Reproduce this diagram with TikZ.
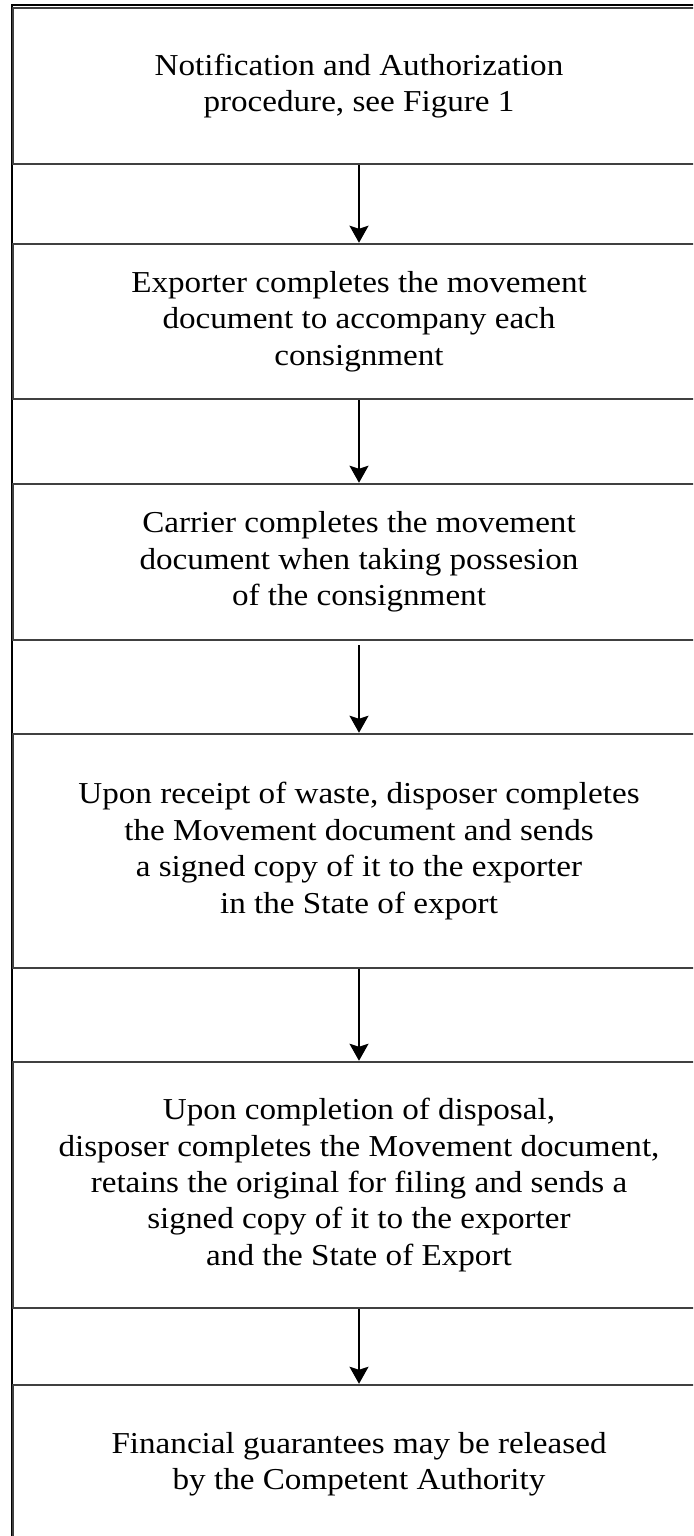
\documentclass[tikz,border=0pt]{standalone}
\usepackage{fontspec}
\setmainfont{Liberation Serif}[FakeStretch=1.09]
\usetikzlibrary{arrows.meta}
\begin{document}
\begin{tikzpicture}[x=0.5pt,y=-0.5pt,
  framelinestyle/.style={draw=black,line width=0.75pt},
  stepbox/.style={draw=black!75,line width=1.25pt,fill=white,minimum width=346pt,
    inner sep=0pt,align=center,font=\fontsize{15.2}{18.2}\selectfont},
  flowarrow/.style={draw=black,line width=0.9pt,
    -{Stealth[length=8.5pt,width=9.5pt,inset=1.5pt]}}]
\useasboundingbox (0,0) rectangle (693,1536);
\clip (0,0) rectangle (693,1536);
\fill[white] (0,0) rectangle (693,1536);
\draw[framelinestyle] (12,5) rectangle (720,1600);
\node[stepbox,minimum height=78pt] (b1) at (359,86)
  {Notification and Authorization\\procedure, see Figure 1};
\node[stepbox,minimum height=77.5pt] (b2) at (359,321.5)
  {Exporter completes the movement\\document to accompany each\\consignment};
\node[stepbox,minimum height=78pt] (b3) at (359,562)
  {Carrier completes the movement\\document when taking possesion\\of the consignment};
\node[stepbox,minimum height=117pt] (b4) at (359,851)
  {Upon receipt of waste, disposer completes\\the Movement document and sends\\a signed copy of it to the exporter\\in the State of export};
\node[stepbox,minimum height=123pt] (b5) at (359,1185)
  {Upon completion of disposal,\\disposer completes the Movement document,\\retains the original for filing and sends a\\signed copy of it to the exporter\\and the State of Export};
\node[stepbox,minimum height=79pt] (b6) at (359,1464)
  {Financial guarantees may be released\\by the Competent Authority};
\draw[flowarrow] (b1) -- (b2);
\draw[flowarrow] (b2) -- (b3);
\draw[flowarrow,shorten <=2pt] (b3) -- (b4);
\draw[flowarrow] (b4) -- (b5);
\draw[flowarrow] (b5) -- (b6);
\end{tikzpicture}
\end{document}
